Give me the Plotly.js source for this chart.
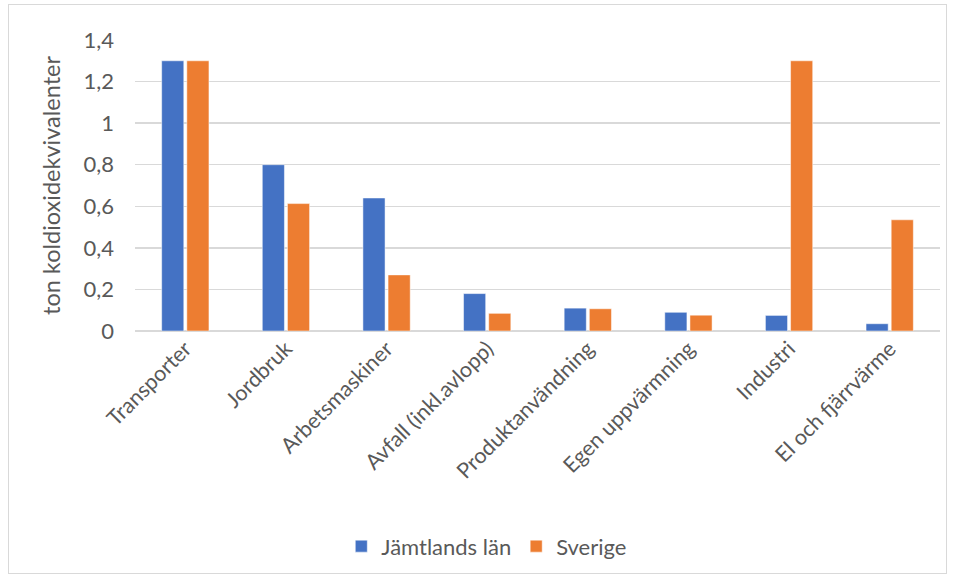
<!DOCTYPE html>
<html><head><meta charset="utf-8">
<script src="https://cdn.plot.ly/plotly-3.0.1.min.js"></script>
<style>
html,body{margin:0;padding:0;background:#fff;}
#frame{position:absolute;left:8px;top:4px;width:939px;height:570px;border:1px solid #d9d9d9;box-sizing:border-box;}
#chart{position:absolute;left:0;top:0;width:959px;height:579px;}
</style></head>
<body>
<div id="frame"></div>
<div id="chart"></div>
<script>
const categories = ["Transporter","Jordbruk","Arbetsmaskiner","Avfall (inkl.avlopp)","Produktanvändning","Egen uppvärmning","Industri","El och fjärrvärme"];
const jamtland = [1.30,0.80,0.64,0.18,0.11,0.09,0.075,0.035];
const sverige = [1.30,0.613,0.27,0.085,0.107,0.076,1.30,0.535];
const seriesNames = ["Jämtlands län","Sverige"];
const yTicks = [0,0.2,0.4,0.6,0.8,1,1.2,1.4];

const font = "Lato, 'Noto Sans', sans-serif";
const traces = [
 {type:"bar", name:seriesNames[0], x:categories, y:jamtland, marker:{color:"#4472c4", line:{color:"#ffffff", width:0.5}}},
 {type:"bar", name:seriesNames[1], x:categories, y:sverige, marker:{color:"#ed7d31", line:{color:"#ffffff", width:0.5}}}
];
const layout = {
 width:959, height:579,
 margin:{l:135, r:19, t:40, b:246},
 paper_bgcolor:"rgba(0,0,0,0)", plot_bgcolor:"rgba(0,0,0,0)",
 separators:",.",
 barmode:"group", bargap:0.5, bargroupgap:0.12,
 font:{family:font, color:"#595959", size:20},
 xaxis:{tickangle:-45, tickfont:{size:21.5, color:"#595959"}, showline:false, ticks:"", showgrid:false, automargin:false},
 yaxis:{range:[0,1.4], tickvals:yTicks, tickfont:{size:22, color:"#595959"},
   gridcolor:"#d9d9d9", gridwidth:1.5, zeroline:true, zerolinecolor:"#d9d9d9", zerolinewidth:1.5,
   ticks:"", ticklen:0, showline:false, ticklabelstandoff:20, automargin:false,
   title:{text:"ton koldioxidekvivalenter", font:{size:23.5, color:"#595959"}, standoff:16}},
 legend:{orientation:"h", x:0.437, xanchor:"center", y:-0.74, yanchor:"middle", font:{size:22, color:"#595959"}, itemwidth:20},
 showlegend:true
};
Plotly.newPlot("chart", traces, layout, {displayModeBar:false, staticPlot:true});
</script>
</body></html>
